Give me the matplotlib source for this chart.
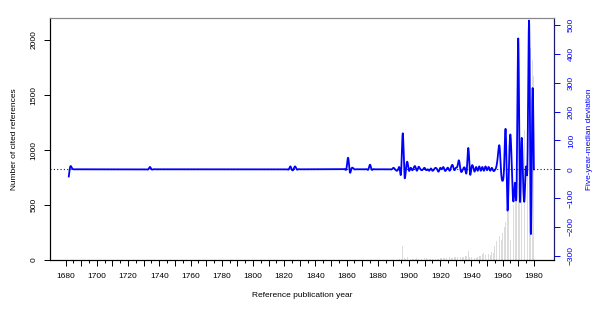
import numpy as np
import matplotlib
matplotlib.use("Agg")
import matplotlib.pyplot as plt

plt.rcParams['font.family'] = ['Liberation Sans', 'DejaVu Sans']

# cited references per reference publication year (gray bars)
count_years = list(range(1890, 1981))
counts = [5, 3, 5, 4, 6, 10, 130, 20, 8, 25,
          10, 8, 10, 6, 12, 20, 10, 8, 12, 10,
          15, 20, 10, 12, 8, 6, 5, 8, 10, 12,
          15, 20, 18, 15, 20, 18, 25, 20, 22, 30,
          25, 30, 35, 25, 30, 25, 35, 40, 85, 30,
          25, 20, 15, 20, 30, 40, 35, 55, 60, 50,
          65, 55, 50, 70, 60, 125, 170, 90, 220, 180,
          250, 300, 350, 450, 445, 180, 300, 500, 665, 600,
          700, 545, 910, 1000, 1180, 1480, 1400, 1700, 1925, 1820,
          1670]

# five-year-median deviation (years not listed are 0)
dev_start, dev_end = 1682, 1980
dev_years = [1682, 1683, 1684, 1734, 1824, 1825, 1827,
             1860, 1861, 1862, 1864, 1875, 1890, 1892, 1894,
             1895, 1896, 1897, 1898, 1899, 1900, 1901, 1902, 1903, 1904,
             1905, 1906, 1907, 1908, 1910, 1911, 1913, 1914, 1915, 1917,
             1919, 1920, 1922, 1923, 1925, 1926, 1927, 1928, 1929, 1930,
             1931, 1932, 1933, 1934, 1935, 1937, 1938, 1939, 1940, 1941,
             1942, 1943, 1944, 1945, 1946, 1947, 1948, 1949, 1950, 1951,
             1952, 1953, 1954, 1955, 1956, 1957, 1958, 1959, 1960, 1961,
             1962, 1963, 1964, 1965, 1966, 1967, 1968, 1969, 1970, 1971,
             1972, 1973, 1974, 1975, 1976, 1977, 1978, 1979, 1980]
dev_values = [-25, 10, 4, 8, 10, -2, 10,
              5, 40, -8, 5, 16, 5, -5, 3,
              -5, 125, -15, 0, 25, -5, 5, -3, 5, 10,
              -5, 8, 3, -3, 5, -3, -5, 3, -5, 5,
              -8, 5, 8, -5, 5, -5, 8, 14, -3, 5,
              10, 31, -2, -7, 5, -5, 74, -12, 5, 10,
              -8, 8, -5, 10, -5, 8, -5, 10, -3, 8,
              -5, 5, -5, -3, 10, 50, 80, -10, -40, 20,
              131, -134, 0, 120, -20, -110, -50, -40, 454, -88,
              91, -20, -105, 10, 60, 503, -217, 245, 0]


def natural_spline(x, y, per=10):
    x = np.asarray(x, float)
    y = np.asarray(y, float)
    n = len(x)
    h = np.diff(x)
    A = np.zeros((n, n))
    b = np.zeros(n)
    A[0, 0] = A[-1, -1] = 1
    for i in range(1, n - 1):
        A[i, i - 1] = h[i - 1]
        A[i, i] = 2 * (h[i - 1] + h[i])
        A[i, i + 1] = h[i]
        b[i] = 6 * ((y[i + 1] - y[i]) / h[i] - (y[i] - y[i - 1]) / h[i - 1])
    M = np.linalg.solve(A, b)
    xs, ys = [], []
    for i in range(n - 1):
        t = np.linspace(x[i], x[i + 1], per, endpoint=False)
        a = x[i + 1] - t
        c = t - x[i]
        s = (M[i] * a**3 + M[i + 1] * c**3) / (6 * h[i]) \
            + (y[i] / h[i] - M[i] * h[i] / 6) * a \
            + (y[i + 1] / h[i] - M[i + 1] * h[i] / 6) * c
        xs.append(t)
        ys.append(s)
    xs.append([x[-1]])
    ys.append([y[-1]])
    return np.concatenate(xs), np.concatenate(ys)


years = np.arange(dev_start, dev_end + 1)
dev = np.zeros(len(years))
for yr, v in zip(dev_years, dev_values):
    dev[yr - dev_start] = v
sx, sy = natural_spline(years, dev)

fig = plt.figure(figsize=(6.03, 3.10), dpi=100)
ax = fig.add_axes([0.083, 0.161, 0.836, 0.781])
ax.bar(count_years, counts, width=0.55, color="#dcdcdc", linewidth=0)
ax.set_xlim(1670, 1993)
ax.set_ylim(0, 2200)
ax.set_yticks([0, 500, 1000, 1500, 2000])
major = list(range(1680, 1981, 10))
ax.set_xticks(major)
ax.set_xticklabels([str(t) if t % 20 == 0 else "" for t in major])
ax.set_xticks(list(range(1685, 1981, 10)), minor=True)
ax.tick_params(axis="x", which="major", length=4, width=0.7, labelsize=6, pad=5)
ax.tick_params(axis="x", which="minor", length=2.5, width=0.7)
ax.tick_params(axis="y", length=4, width=0.7, labelsize=6, pad=5)
for lab in ax.get_yticklabels():
    lab.set_rotation(90)
    lab.set_va("center")
ax.set_xlabel("Reference publication year", fontsize=6, labelpad=9)
ax.set_ylabel("Number of cited references", fontsize=6, labelpad=9)
ax.spines["top"].set_color("#888888")
for s in ax.spines.values():
    s.set_linewidth(0.8)

ax2 = ax.twinx()
ax2.axhline(0, color="blue", linestyle=(0, (1, 2)), linewidth=0.8)
ax2.plot(sx, sy, color="blue", linewidth=1.3)
ax2.set_ylim(-315, 525)
ax2.set_yticks(range(-300, 501, 100))
ax2.tick_params(axis="y", length=4, width=0.7, labelsize=6, pad=6,
                colors="blue")
for lab in ax2.get_yticklabels():
    lab.set_rotation(90)
    lab.set_va("center")
ax2.set_ylabel("Five-year-median deviation", fontsize=6, color="blue", labelpad=8)
ax2.spines["right"].set_color("#1a1a6e")
ax2.spines["top"].set_color("#888888")
for s in ax2.spines.values():
    s.set_linewidth(0.8)

fig.savefig("out.png", dpi=100)
